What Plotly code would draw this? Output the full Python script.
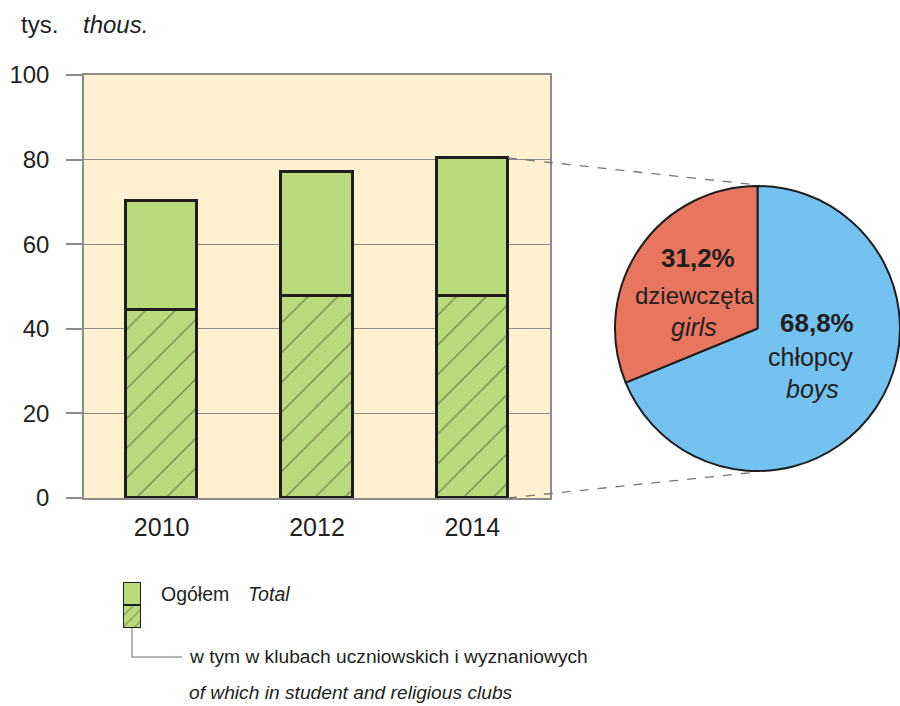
import plotly.graph_objects as go

# ---- data ----
years = ["2010", "2012", "2014"]
total = [70.2, 77.1, 80.4]
clubs = [44.4, 47.8, 47.8]
pie_labels_pl = ["chłopcy", "dziewczęta"]
pie_labels_en = ["boys", "girls"]
pie_values = [68.8, 31.2]
pie_text = ["68,8%", "31,2%"]
y_ticks = [0, 20, 40, 60, 80, 100]

W, H = 900, 706
FONT = "Liberation Sans, Arial, sans-serif"
TXT = "#231f20"
GREEN = "#b9db7c"
CREAM = "#fff0cf"
BLUE = "#74c2ef"
RED = "#e8765f"
EDGE = "#1e1e1e"
HATCH = "#3a3a2e"

def px_x(px):
    return px / W

def px_y(py):
    return 1 - py / H

x_dom = [px_x(84), px_x(550)]
y_dom = [px_y(498), px_y(75)]
BW = 0.46

rest = [t - c for t, c in zip(total, clubs)]

fig = go.Figure()
fig.add_trace(go.Bar(
    x=years, y=clubs, width=BW,
    marker=dict(color=GREEN, line=dict(color=EDGE, width=3),
                pattern=dict(shape="/", size=21, solidity=0.07,
                             fgcolor=HATCH, bgcolor=GREEN, fillmode="overlay")),
    showlegend=False, hoverinfo="skip"))
fig.add_trace(go.Bar(
    x=years, y=rest, width=BW,
    marker=dict(color=GREEN, line=dict(color=EDGE, width=3)),
    showlegend=False, hoverinfo="skip"))

# legend swatch (mini bars)
fig.add_trace(go.Bar(
    x=[0], y=[1], width=1, xaxis="x2", yaxis="y2",
    marker=dict(color=GREEN, line=dict(color=EDGE, width=2.5),
                pattern=dict(shape="/", size=8, solidity=0.13,
                             fgcolor=HATCH, bgcolor=GREEN, fillmode="overlay")),
    showlegend=False, hoverinfo="skip"))
fig.add_trace(go.Bar(
    x=[0], y=[1], width=1, xaxis="x2", yaxis="y2",
    marker=dict(color=GREEN, line=dict(color=EDGE, width=2.5)),
    showlegend=False, hoverinfo="skip"))

# pie
pie_dom_x = [px_x(615), 1.0]
pie_dom_y = [px_y(472), px_y(185)]
fig.add_trace(go.Pie(
    values=pie_values, labels=pie_labels_en, sort=False, direction="clockwise",
    rotation=0, textinfo="none", hoverinfo="skip",
    marker=dict(colors=[BLUE, RED], line=dict(color=EDGE, width=2)),
    domain=dict(x=pie_dom_x, y=pie_dom_y), showlegend=False))

# connector dashed lines from the 2014 bar to the pie
i14 = years.index("2014")
def bar_paper_x(xv):
    return x_dom[0] + (xv + 0.5) / 3 * (x_dom[1] - x_dom[0])
def bar_paper_y(yv):
    return y_dom[0] + yv / 100 * (y_dom[1] - y_dom[0])
bx = bar_paper_x(i14 + BW / 2)
pcx = (pie_dom_x[0] + pie_dom_x[1]) / 2
shapes = [
    dict(type="line", xref="paper", yref="paper", x0=bx, y0=bar_paper_y(total[i14]),
         x1=pcx, y1=pie_dom_y[1], line=dict(color="#777777", width=1.3, dash="dash")),
    dict(type="line", xref="paper", yref="paper", x0=bx, y0=bar_paper_y(0),
         x1=pcx, y1=pie_dom_y[0], line=dict(color="#777777", width=1.3, dash="dash")),
    dict(type="path", xref="paper", yref="paper",
         path=f"M {px_x(132)} {px_y(628)} L {px_x(132)} {px_y(657)} L {px_x(182)} {px_y(657)}",
         line=dict(color="#999999", width=1.5)),
]

ann = []
def add_text(t, x, y, size, xanchor="center", italic=False, bold=False):
    s = t
    if bold:
        s = f"<b>{s}</b>"
    if italic:
        s = f"<i>{s}</i>"
    ann.append(dict(text=s, x=px_x(x), y=px_y(y), xref="paper", yref="paper",
                    xanchor=xanchor, yanchor="middle", showarrow=False,
                    font=dict(family=FONT, size=size, color=TXT)))

add_text("tys.", 19, 24, 24, xanchor="left")
add_text("thous.", 81, 24, 24, xanchor="left", italic=True)

# pie labels
add_text(pie_text[1], 698, 258, 26, bold=True)
add_text(pie_labels_pl[1], 694, 295, 24)
add_text(pie_labels_en[1], 694, 327, 25, italic=True)
add_text(pie_text[0], 817, 323, 26, bold=True)
add_text(pie_labels_pl[0], 810, 357, 25)
add_text(pie_labels_en[0], 812, 389, 25, italic=True)

# legend text
add_text("Ogółem", 159, 594, 19.5, xanchor="left")
add_text("Total", 246, 594, 19.5, xanchor="left", italic=True)
add_text("w tym w klubach uczniowskich i wyznaniowych", 187, 656, 19.2, xanchor="left")
add_text("of which in student and religious clubs", 187, 692, 19.2, xanchor="left", italic=True)

fig.update_layout(
    width=W, height=H, margin=dict(l=0, r=0, t=0, b=0, autoexpand=False),
    paper_bgcolor="white", plot_bgcolor=CREAM, barmode="stack", bargap=0,
    font=dict(family=FONT, color=TXT),
    shapes=shapes, annotations=ann,
    xaxis=dict(domain=x_dom, type="category", range=[-0.5, 2.5], showgrid=False,
               showline=True, linecolor="#8c8c8c", linewidth=1.5, mirror=True,
               ticks="", tickfont=dict(family=FONT, size=25, color=TXT),
               ticklabelstandoff=6, fixedrange=True),
    yaxis=dict(domain=y_dom, range=[0, 100], tickvals=y_ticks,
               showgrid=True, gridcolor="#8c8c8c", gridwidth=1,
               showline=True, linecolor="#8c8c8c", linewidth=1.5, mirror=True,
               ticks="outside", ticklen=16, tickcolor="#8c8c8c", tickwidth=1.5,
               tickfont=dict(family=FONT, size=24, color=TXT),
               ticklabelstandoff=12, zeroline=False, fixedrange=True),
    xaxis2=dict(domain=[px_x(123), px_x(141)], range=[-0.5, 0.5], visible=False,
                anchor="y2", fixedrange=True),
    yaxis2=dict(domain=[px_y(628), px_y(582)], range=[0, 2], visible=False,
                anchor="x2", fixedrange=True),
)

fig.write_html("out.html", config={"displayModeBar": False},
               post_script="document.body.style.margin='0';")
